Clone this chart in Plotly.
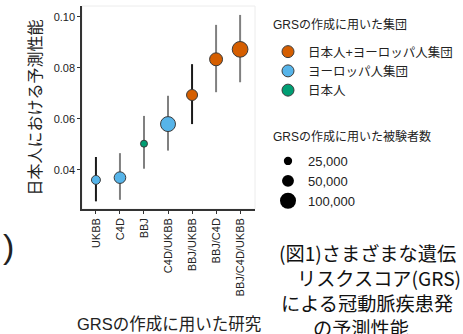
import numpy as np
import plotly.graph_objects as go

# ---------------- data ----------------
studies = ["UKBB", "C4D", "BBJ", "C4D/UKBB", "BBJ/UKBB", "BBJ/C4D", "BBJ/C4D/UKBB"]
performance = [0.0361, 0.0370, 0.0503, 0.0580, 0.0694, 0.0834, 0.0873]
ci_low = [0.0277, 0.0283, 0.0405, 0.0476, 0.0580, 0.0705, 0.0744]
ci_high = [0.0451, 0.0466, 0.0612, 0.0691, 0.0815, 0.0969, 0.1008]
population = ["ヨーロッパ人集団", "ヨーロッパ人集団", "日本人", "ヨーロッパ人集団",
              "日本人+ヨーロッパ人集団", "日本人+ヨーロッパ人集団", "日本人+ヨーロッパ人集団"]
sample_size = [29000, 48000, 18000, 78000, 43000, 59000, 86000]
size_legend_values = [25000, 50000, 100000]
size_legend_labels = ["25,000", "50,000", "100,000"]
population_order = ["日本人+ヨーロッパ人集団", "ヨーロッパ人集団", "日本人"]
y_ticks = [0.04, 0.06, 0.08, 0.10]
caption_lines = ["(図1)さまざまな遺伝", "リスクスコア(GRS)", "による冠動脈疾患発", "の予測性能"]

# ---------------- styles ----------------
pop_colors = {"日本人+ヨーロッパ人集団": "#D55E00", "ヨーロッパ人集団": "#56B4E9", "日本人": "#009E73"}
err_colors = ["#1a1a1a", "#808080", "#808080", "#808080", "#1a1a1a", "#808080", "#808080"]
FONT = "Liberation Sans, Arial, Noto Sans CJK JP"
TXT = "#222222"
W, H = 463, 334
ML, MR, MT, MB = 82, 208, 6, 125
PW, PH = W - ML - MR, H - MT - MB


def px_x(p):
    return (p - ML) / PW


def px_y(p):
    return (H - MB - p) / PH


def msize(n):
    return 0.055 * np.sqrt(np.asarray(n, dtype=float)) - 0.4


fig = go.Figure()

# error bars grouped by colour
for col in sorted(set(err_colors)):
    idx = [i for i, c in enumerate(err_colors) if c == col]
    fig.add_trace(go.Scatter(
        x=[studies[i] for i in idx],
        y=[performance[i] for i in idx],
        mode="markers",
        marker=dict(size=1, opacity=0),
        error_y=dict(type="data", symmetric=False,
                     array=[ci_high[i] - performance[i] for i in idx],
                     arrayminus=[performance[i] - ci_low[i] for i in idx],
                     color=col, thickness=2, width=0),
        showlegend=False, hoverinfo="skip"))

# points per population
for pop in population_order:
    idx = [i for i, p in enumerate(population) if p == pop]
    fig.add_trace(go.Scatter(
        x=[studies[i] for i in idx],
        y=[performance[i] for i in idx],
        mode="markers",
        marker=dict(color=pop_colors[pop], opacity=1,
                    size=list(msize([sample_size[i] for i in idx])),
                    line=dict(color="#3a3a3a", width=1)),
        showlegend=False))

# legend 1: population colour
for pop in population_order:
    fig.add_trace(go.Scatter(
        x=[None], y=[None], mode="markers", name=pop, legend="legend",
        marker=dict(color=pop_colors[pop], size=12, line=dict(color="#3a3a3a", width=1))))

# legend 2: sample size
for v, lab in zip(size_legend_values, size_legend_labels):
    fig.add_trace(go.Scatter(
        x=[None], y=[None], mode="markers", name=lab, legend="legend2",
        marker=dict(color="black", size=float(msize(v)))))

fig.add_shape(type="rect", xref="paper", yref="paper", x0=0, x1=1, y0=0, y1=1,
              line=dict(color="#ececec", width=1), layer="below")

annotations = [
    dict(text="日本人における予測性能", x=px_x(35), y=0.5, textangle=-90,
         xanchor="center", yanchor="middle", font=dict(size=16, family=FONT, color=TXT)),
    dict(text="GRSの作成に用いた研究", x=0.5, y=px_y(324),
         xanchor="center", yanchor="middle", font=dict(size=16.5, family=FONT, color=TXT)),
    dict(text="GRSの作成に用いた集団", x=px_x(271), y=px_y(24),
         xanchor="left", yanchor="middle", font=dict(size=12, family=FONT, color=TXT)),
    dict(text="GRSの作成に用いた被験者数", x=px_x(271), y=px_y(136),
         xanchor="left", yanchor="middle", font=dict(size=12, family=FONT, color=TXT)),
    dict(text=")", x=px_x(8), y=px_y(246), xanchor="center", yanchor="middle",
         font=dict(size=34, family="Liberation Sans", color="#222222")),
]
cap_left = [277, 295, 279, 311]
cap_y = [253, 278, 303, 328]
for line, xl, yc in zip(caption_lines, cap_left, cap_y):
    annotations.append(dict(text=line, x=px_x(xl), y=px_y(yc), xanchor="left", yanchor="middle",
                            font=dict(size=19.2, family="Noto Sans CJK JP", color="#111111")))
for a in annotations:
    a.update(xref="paper", yref="paper", showarrow=False)

fig.update_layout(
    width=W, height=H,
    margin=dict(l=ML, r=MR, t=MT, b=MB, autoexpand=False),
    paper_bgcolor="white", plot_bgcolor="white",
    font=dict(family=FONT, size=11, color=TXT),
    xaxis=dict(type="category", categoryorder="array", categoryarray=studies,
               range=[-0.58, 6.62], showgrid=False, zeroline=False,
               showline=True, linecolor="#333333", linewidth=1.5,
               ticks="outside", ticklen=3, tickcolor="#333333", tickwidth=1,
               tickangle=-90, tickfont=dict(size=11, color=TXT, family=FONT)),
    yaxis=dict(range=[0.0247, 0.1043], tickvals=y_ticks, tickformat=".2f",
               showgrid=False, zeroline=False,
               showline=True, linecolor="#333333", linewidth=1.5,
               ticks="outside", ticklen=3, tickcolor="#333333", tickwidth=1,
               tickfont=dict(size=11, color=TXT, family=FONT)),
    legend=dict(x=px_x(268), y=px_y(37), xanchor="left", yanchor="top",
                font=dict(size=12.5, family=FONT, color=TXT), itemsizing="trace",
                bgcolor="rgba(0,0,0,0)", tracegroupgap=0),
    legend2=dict(x=px_x(268), y=px_y(146), xanchor="left", yanchor="top",
                 font=dict(size=13, family=FONT, color=TXT), itemsizing="trace",
                 bgcolor="rgba(0,0,0,0)", tracegroupgap=0),
    annotations=annotations,
)

fig.write_html("out.html", config={"displayModeBar": False},
               post_script="document.body.style.margin='0';")
